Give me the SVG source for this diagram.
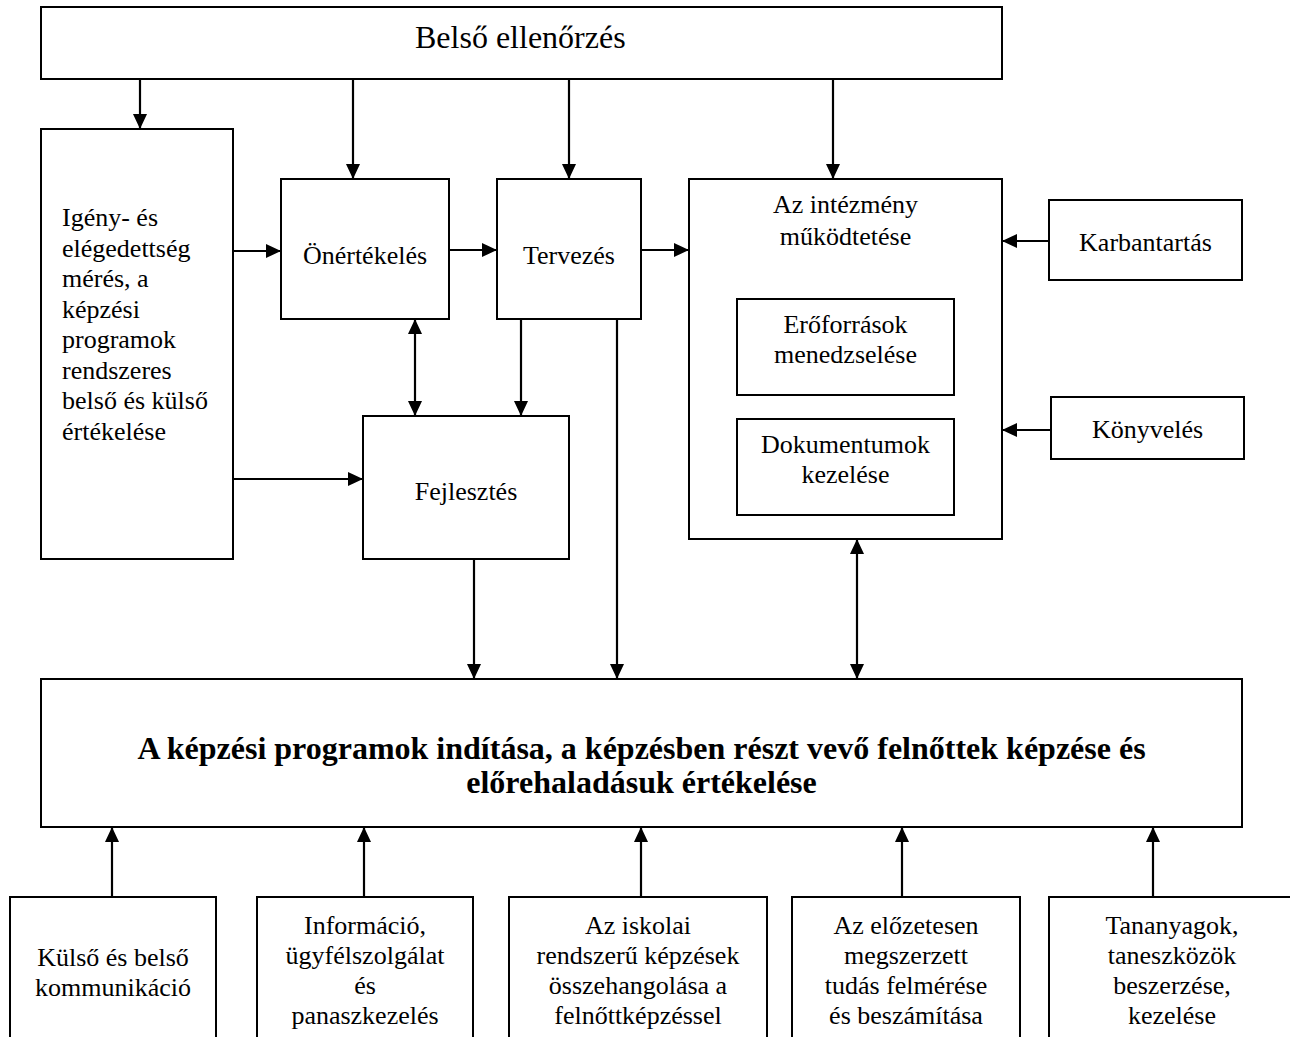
<svg xmlns="http://www.w3.org/2000/svg" width="1290" height="1037" viewBox="0 0 1290 1037">
<style>
.box{fill:#fff;stroke:#000;stroke-width:2}
.t{font-family:"Liberation Serif","Times New Roman",serif;font-size:26px;fill:#000}
.c{text-anchor:middle}
.big{font-size:32px}
.b{font-family:"Liberation Serif","Times New Roman",serif;font-size:32px;font-weight:bold;fill:#000;text-anchor:middle}
.ln{stroke:#000;stroke-width:2.2;fill:none}
.a{marker-end:url(#ah)}
.d{marker-start:url(#ah);marker-end:url(#ah)}
</style>
<defs>
<marker id="ah" markerUnits="userSpaceOnUse" markerWidth="16" markerHeight="16" refX="15" refY="7" orient="auto-start-reverse" viewBox="0 0 16 14">
<path d="M0,0 L15,7 L0,14 z" fill="#000"/>
</marker>
</defs>
<rect width="1290" height="1037" fill="#fff"/>

<g id="belso-ellenorzes">
<rect class="box" x="41" y="7" width="961" height="72"/>
<text class="t big" x="415" y="48">Belső ellenőrzés</text>
</g>

<g id="igeny">
<rect class="box" x="41" y="129" width="192" height="430"/>
<text class="t" x="62" y="226">Igény- és</text>
<text class="t" x="62" y="256.5">elégedettség</text>
<text class="t" x="62" y="287">mérés, a</text>
<text class="t" x="62" y="317.5">képzési</text>
<text class="t" x="62" y="348">programok</text>
<text class="t" x="62" y="378.5">rendszeres</text>
<text class="t" x="62" y="409">belső és külső</text>
<text class="t" x="62" y="439.5">értékelése</text>
</g>

<g id="onertekeles">
<rect class="box" x="281" y="179" width="168" height="140"/>
<text class="t c" x="365" y="264">Önértékelés</text>
</g>

<g id="tervezes">
<rect class="box" x="497" y="179" width="144" height="140"/>
<text class="t c" x="569" y="264">Tervezés</text>
</g>

<g id="fejlesztes">
<rect class="box" x="363" y="416" width="206" height="143"/>
<text class="t c" x="466" y="500">Fejlesztés</text>
</g>

<g id="intezmeny">
<rect class="box" x="689" y="179" width="313" height="360"/>
<text class="t c" x="845.5" y="213">Az intézmény</text>
<text class="t c" x="845.5" y="245">működtetése</text>
</g>

<g id="eroforrasok">
<rect class="box" x="737" y="299" width="217" height="96"/>
<text class="t c" x="845.5" y="333">Erőforrások</text>
<text class="t c" x="845.5" y="363">menedzselése</text>
</g>

<g id="dokumentumok">
<rect class="box" x="737" y="419" width="217" height="96"/>
<text class="t c" x="845.5" y="453">Dokumentumok</text>
<text class="t c" x="845.5" y="483">kezelése</text>
</g>

<g id="karbantartas">
<rect class="box" x="1049" y="200" width="193" height="80"/>
<text class="t c" x="1145.5" y="251">Karbantartás</text>
</g>

<g id="konyveles">
<rect class="box" x="1051" y="397" width="193" height="62"/>
<text class="t c" x="1147.5" y="438">Könyvelés</text>
</g>

<g id="kepzesi-programok">
<rect class="box" x="41" y="679" width="1201" height="148"/>
<text class="b" x="641.5" y="759">A képzési programok indítása, a képzésben részt vevő felnőttek képzése és</text>
<text class="b" x="641.5" y="793">előrehaladásuk értékelése</text>
</g>

<g id="kommunikacio">
<rect class="box" x="10" y="897" width="206" height="200"/>
<text class="t c" x="113" y="966">Külső és belső</text>
<text class="t c" x="113" y="996">kommunikáció</text>
</g>

<g id="informacio">
<rect class="box" x="257" y="897" width="216" height="200"/>
<text class="t c" x="365" y="934">Információ,</text>
<text class="t c" x="365" y="964">ügyfélszolgálat</text>
<text class="t c" x="365" y="994">és</text>
<text class="t c" x="365" y="1024">panaszkezelés</text>
</g>

<g id="iskolai">
<rect class="box" x="509" y="897" width="258" height="200"/>
<text class="t c" x="638" y="934">Az iskolai</text>
<text class="t c" x="638" y="964">rendszerű képzések</text>
<text class="t c" x="638" y="994">összehangolása a</text>
<text class="t c" x="638" y="1024">felnőttképzéssel</text>
</g>

<g id="elozetes-tudas">
<rect class="box" x="792" y="897" width="228" height="200"/>
<text class="t c" x="906" y="934">Az előzetesen</text>
<text class="t c" x="906" y="964">megszerzett</text>
<text class="t c" x="906" y="994">tudás felmérése</text>
<text class="t c" x="906" y="1024">és beszámítása</text>
</g>

<g id="tananyagok">
<rect class="box" x="1049" y="897" width="260" height="200"/>
<text class="t c" x="1172" y="934">Tananyagok,</text>
<text class="t c" x="1172" y="964">taneszközök</text>
<text class="t c" x="1172" y="994">beszerzése,</text>
<text class="t c" x="1172" y="1024">kezelése</text>
</g>

<g id="connectors">
<line class="ln a" x1="140" y1="79" x2="140" y2="129"/>
<line class="ln a" x1="353" y1="79" x2="353" y2="179"/>
<line class="ln a" x1="569" y1="79" x2="569" y2="179"/>
<line class="ln a" x1="833" y1="79" x2="833" y2="179"/>
<line class="ln a" x1="233" y1="251" x2="281" y2="251"/>
<line class="ln a" x1="449" y1="250" x2="497" y2="250"/>
<line class="ln a" x1="641" y1="250" x2="689" y2="250"/>
<line class="ln a" x1="1049" y1="241" x2="1002" y2="241"/>
<line class="ln a" x1="1051" y1="430" x2="1002" y2="430"/>
<line class="ln d" x1="415" y1="319" x2="415" y2="416"/>
<line class="ln a" x1="521" y1="319" x2="521" y2="416"/>
<line class="ln a" x1="233" y1="479" x2="363" y2="479"/>
<line class="ln a" x1="474" y1="559" x2="474" y2="679"/>
<line class="ln a" x1="617" y1="319" x2="617" y2="679"/>
<line class="ln d" x1="857" y1="539" x2="857" y2="679"/>
<line class="ln a" x1="112" y1="897" x2="112" y2="827"/>
<line class="ln a" x1="364" y1="897" x2="364" y2="827"/>
<line class="ln a" x1="641" y1="897" x2="641" y2="827"/>
<line class="ln a" x1="902" y1="897" x2="902" y2="827"/>
<line class="ln a" x1="1153" y1="897" x2="1153" y2="827"/>
</g>
</svg>
